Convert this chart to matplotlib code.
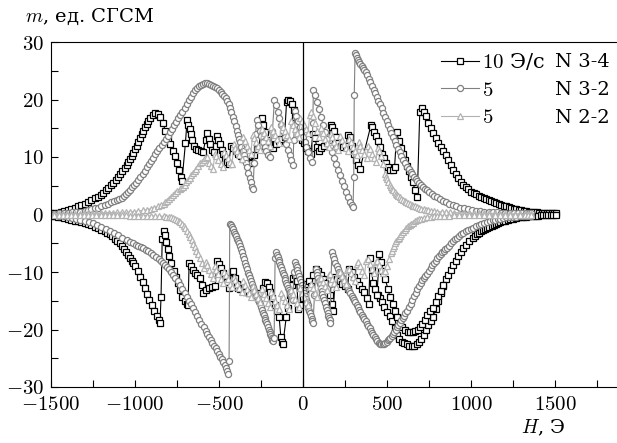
import numpy as np
import matplotlib
matplotlib.use('Agg')
import matplotlib.pyplot as plt

plt.rcParams['font.family'] = ['DejaVu Serif']
plt.rcParams['mathtext.fontset'] = 'cm'

# (H, m) points, each branch in order of increasing H
# N 3-4, 10 Э/с
n34_up = [(-1500, 0.2), (-1480, 0.25), (-1460, 0.3), (-1440, 0.45), (-1420, 0.6), (-1400, 0.8), (-1380, 1.0),
          (-1360, 1.2), (-1340, 1.4), (-1320, 1.65), (-1300, 1.9), (-1280, 2.2), (-1260, 2.5), (-1240, 2.8),
          (-1220, 3.1), (-1205, 3.45), (-1190, 3.8), (-1175, 4.2), (-1160, 4.6), (-1145, 5.05), (-1130, 5.5),
          (-1115, 6.0), (-1100, 6.5), (-1088, 7.0), (-1075, 7.5), (-1062, 8.05), (-1050, 8.6), (-1040, 9.1),
          (-1030, 9.6), (-1020, 10.15), (-1010, 10.7), (-1000, 11.35), (-990, 12.0), (-980, 12.65),
          (-970, 13.3), (-960, 13.95), (-950, 14.6), (-940, 15.2), (-930, 15.8), (-920, 16.3), (-910, 16.8),
          (-895, 17.3), (-880, 17.6), (-865, 17.5), (-850, 17.0), (-835, 16.0), (-820, 14.6), (-805, 13.2),
          (-790, 12.3), (-775, 11.0), (-762, 10.2), (-750, 9.0), (-738, 7.8), (-728, 6.6), (-720, 5.9),
          (-700, 12.4), (-690, 16.4), (-682, 15.6), (-675, 14.8), (-668, 14.0), (-660, 12.9), (-650, 12.0),
          (-638, 11.4), (-625, 11.2), (-610, 11.0), (-595, 10.8), (-580, 13.0), (-571, 14.1), (-562, 13.2),
          (-552, 12.2), (-542, 11.2), (-530, 10.8), (-520, 12.0), (-512, 13.6), (-503, 13.0), (-494, 12.2),
          (-484, 11.3), (-474, 10.5), (-463, 9.8), (-452, 9.2), (-443, 8.7), (-428, 12.0), (-415, 11.6),
          (-400, 11.1), (-385, 10.6), (-370, 10.1), (-355, 9.7), (-340, 9.4), (-322, 9.2), (-305, 9.0),
          (-290, 10.4), (-275, 11.4), (-260, 12.0), (-247, 16.7), (-237, 15.6), (-226, 14.3), (-214, 13.0),
          (-202, 12.2), (-190, 11.8), (-178, 11.5), (-162, 12.2), (-145, 12.8), (-128, 13.1), (-110, 13.5),
          (-98, 19.5), (-87, 19.9), (-77, 19.8), (-66, 19.3), (-55, 18.1), (-45, 17.0), (-34, 15.8),
          (-20, 14.1), (-8, 13.0), (5, 12.4), (18, 11.6), (32, 11.0), (45, 10.6), (60, 14.0), (71, 13.3),
          (83, 11.7), (96, 11.0), (110, 11.5), (125, 12.0), (140, 12.5), (153, 13.0), (165, 15.5), (174, 15.3),
          (184, 14.5), (196, 13.5), (210, 12.5), (225, 12.0), (240, 11.8), (254, 12.0), (268, 13.8),
          (280, 13.4), (292, 12.0), (305, 10.5), (318, 9.5), (330, 8.6), (340, 8.0), (405, 15.6), (413, 15.2),
          (422, 14.4), (433, 13.6), (445, 12.8), (458, 11.8), (470, 10.6), (482, 9.8), (495, 9.0), (508, 8.3),
          (520, 7.7), (533, 7.8), (545, 8.2), (558, 14.3), (570, 12.8), (582, 11.6), (595, 10.6), (608, 9.5),
          (620, 8.5), (632, 7.6), (645, 6.6), (655, 5.6), (665, 4.3), (680, 3.0), (695, 17.8), (708, 18.5),
          (718, 17.9), (730, 17.1), (745, 16.0), (760, 15.0), (775, 14.1), (790, 13.3), (805, 12.5),
          (820, 11.8), (835, 11.1), (850, 10.3), (865, 9.5), (880, 8.6), (895, 7.8), (910, 7.0), (925, 6.3),
          (940, 5.7), (955, 5.2), (970, 4.75), (985, 4.35), (1000, 4.0), (1015, 3.75), (1030, 3.5),
          (1045, 3.3), (1060, 3.1), (1075, 2.9), (1090, 2.7), (1105, 2.55), (1120, 2.35), (1135, 2.2),
          (1150, 2.0), (1165, 1.85), (1180, 1.7), (1195, 1.55), (1210, 1.4), (1225, 1.25), (1240, 1.1),
          (1255, 1.0), (1270, 0.9), (1285, 0.8), (1300, 0.7), (1315, 0.6), (1330, 0.55), (1345, 0.5),
          (1360, 0.45), (1375, 0.4), (1390, 0.35), (1405, 0.3), (1420, 0.3), (1435, 0.3), (1450, 0.25),
          (1465, 0.2), (1480, 0.2), (1495, 0.2), (1505, 0.2)]

n34_dn = [(-1500, -0.2), (-1480, -0.3), (-1460, -0.4), (-1440, -0.5), (-1420, -0.6), (-1400, -0.75),
          (-1380, -0.9), (-1360, -1.05), (-1340, -1.2), (-1320, -1.35), (-1300, -1.5), (-1280, -1.7),
          (-1260, -1.9), (-1240, -2.15), (-1220, -2.4), (-1200, -2.65), (-1180, -2.9), (-1165, -3.15),
          (-1150, -3.4), (-1135, -3.8), (-1120, -4.2), (-1105, -4.6), (-1090, -5.0), (-1078, -5.5),
          (-1065, -6.0), (-1052, -6.5), (-1040, -7.0), (-1030, -7.5), (-1020, -8.0), (-1010, -8.5),
          (-1000, -9.0), (-985, -9.8), (-970, -10.8), (-955, -11.8), (-940, -12.8), (-929, -13.8),
          (-915, -14.8), (-900, -15.8), (-885, -16.8), (-872, -17.6), (-860, -18.3), (-851, -18.8),
          (-845, -14.3), (-838, -4.2), (-830, -2.8), (-822, -3.6), (-815, -4.8), (-806, -6.0), (-796, -7.2),
          (-785, -8.4), (-770, -9.8), (-755, -10.9), (-742, -11.9), (-732, -13.2), (-720, -14.3),
          (-705, -15.0), (-692, -15.6), (-684, -15.8), (-678, -8.4), (-668, -9.0), (-655, -9.6),
          (-642, -10.1), (-628, -10.6), (-613, -11.0), (-604, -12.2), (-595, -13.6), (-580, -13.1),
          (-560, -12.8), (-540, -12.6), (-524, -12.4), (-510, -8.0), (-500, -8.6), (-488, -9.3),
          (-476, -10.1), (-462, -11.0), (-450, -11.8), (-440, -12.7), (-425, -10.0), (-417, -9.8),
          (-405, -11.0), (-395, -12.0), (-387, -12.7), (-375, -12.9), (-358, -13.2), (-340, -13.4),
          (-320, -13.6), (-300, -13.8), (-286, -14.0), (-274, -14.1), (-256, -13.6), (-240, -12.8),
          (-226, -11.7), (-214, -11.9), (-205, -12.6), (-195, -13.5), (-182, -14.6), (-168, -15.8),
          (-155, -16.8), (-142, -17.8), (-132, -21.3), (-126, -22.2), (-120, -22.6), (-100, -17.9),
          (-92, -16.2), (-80, -14.0), (-68, -12.2), (-59, -11.0), (-48, -10.6), (-38, -11.5), (-28, -16.4),
          (-15, -15.8), (0, -14.5), (12, -13.0), (25, -12.0), (38, -11.5), (50, -12.5), (62, -10.5),
          (75, -9.5), (91, -9.8), (105, -10.6), (120, -11.2), (133, -11.9), (145, -12.8), (158, -14.0),
          (170, -15.5), (180, -16.8), (192, -10.8), (205, -11.2), (220, -11.6), (235, -12.0), (250, -12.5),
          (265, -13.0), (275, -9.4), (290, -10.0), (305, -10.8), (321, -11.5), (335, -12.2), (350, -12.9),
          (365, -13.5), (380, -14.5), (392, -15.5), (399, -7.5), (408, -9.6), (417, -11.9), (430, -13.0),
          (445, -14.0), (458, -14.6), (470, -15.2), (485, -16.0), (500, -16.9), (515, -17.7), (530, -18.5),
          (545, -19.8), (558, -21.0), (572, -21.6), (588, -22.1), (603, -22.4), (617, -22.6), (632, -22.8),
          (648, -22.9), (662, -22.8), (678, -22.6), (692, -22.2), (705, -21.6), (718, -20.9), (732, -20.1),
          (745, -19.3), (760, -18.6), (774, -17.8), (790, -16.4), (805, -15.0), (820, -13.6), (835, -12.4),
          (850, -11.3), (865, -10.5), (880, -9.7), (895, -8.8), (910, -8.0), (925, -7.3), (940, -6.6),
          (955, -5.9), (970, -5.3), (990, -4.6), (1012, -4.0), (1024, -3.7), (1035, -3.4), (1048, -3.15),
          (1060, -2.9), (1072, -2.7), (1085, -2.5), (1098, -2.3), (1110, -2.1), (1122, -1.95), (1135, -1.8),
          (1148, -1.65), (1160, -1.5), (1175, -1.35), (1190, -1.2), (1205, -1.05), (1220, -0.9),
          (1235, -0.8), (1250, -0.7), (1265, -0.6), (1280, -0.5), (1295, -0.45), (1310, -0.4),
          (1325, -0.35), (1340, -0.3), (1355, -0.25), (1370, -0.2), (1385, -0.2), (1400, -0.2),
          (1415, -0.15), (1430, -0.1), (1445, -0.1), (1460, -0.1), (1475, -0.1), (1490, -0.1), (1505, -0.1)]

# second pass of the lower branch (shallower trough)
n34_dn2 = [(440, -14.0), (455, -6.8), (466, -8.3), (478, -9.8), (490, -11.3), (505, -12.9), (518, -14.4),
           (533, -15.6), (548, -16.8), (562, -17.9), (577, -19.0), (592, -19.6), (607, -20.1), (622, -20.4),
           (637, -20.4), (652, -20.5), (667, -20.3), (682, -20.0), (696, -19.6), (710, -19.0), (725, -18.3),
           (740, -17.5), (757, -16.8), (774, -16.2), (790, -15.2), (805, -14.2), (820, -13.3), (835, -12.3)]

# N 3-2, 5 Э/с
n32_up = [(-1500, 0.1), (-1475, 0.15), (-1450, 0.2), (-1425, 0.25), (-1400, 0.3), (-1375, 0.35), (-1350, 0.4),
          (-1325, 0.5), (-1300, 0.6), (-1280, 0.75), (-1260, 0.9), (-1240, 1.05), (-1220, 1.2), (-1200, 1.4),
          (-1180, 1.6), (-1160, 1.85), (-1140, 2.1), (-1125, 2.3), (-1110, 2.5), (-1095, 2.7), (-1080, 2.9),
          (-1068, 3.2), (-1055, 3.5), (-1042, 3.9), (-1030, 4.3), (-1018, 4.7), (-1005, 5.1), (-992, 5.55),
          (-980, 6.0), (-968, 6.5), (-955, 7.0), (-942, 7.6), (-930, 8.2), (-918, 8.75), (-905, 9.3),
          (-892, 9.9), (-880, 10.5), (-868, 11.05), (-855, 11.6), (-842, 12.1), (-830, 12.6), (-818, 13.15),
          (-805, 13.7), (-792, 14.3), (-780, 14.9), (-768, 15.5), (-755, 16.1), (-742, 16.7), (-730, 17.3),
          (-718, 17.9), (-705, 18.5), (-692, 19.2), (-680, 19.9), (-668, 20.5), (-655, 21.1), (-642, 21.6),
          (-630, 22.0), (-618, 22.3), (-605, 22.6), (-594, 22.7), (-583, 22.8), (-572, 22.8), (-560, 22.7),
          (-548, 22.6), (-535, 22.4), (-524, 22.2), (-512, 22.0), (-501, 21.7), (-490, 21.3), (-480, 21.0),
          (-470, 20.6), (-461, 20.2), (-452, 19.8), (-443, 19.2), (-435, 18.6), (-426, 17.8), (-417, 17.0),
          (-408, 16.2), (-400, 15.4), (-393, 14.6), (-387, 13.9), (-381, 13.2), (-375, 12.6), (-367, 11.8),
          (-360, 11.0), (-353, 10.3), (-347, 9.6), (-340, 8.9), (-333, 8.2), (-325, 7.3), (-318, 6.4),
          (-311, 5.6), (-304, 4.8), (-298, 4.5), (-290, 9.0), (-282, 14.0), (-276, 16.4), (-268, 15.6),
          (-258, 14.6), (-248, 13.6), (-238, 12.6), (-228, 11.8), (-218, 11.0), (-206, 10.4), (-196, 10.0),
          (-182, 14.5), (-170, 20.0), (-160, 19.0), (-150, 17.8), (-140, 16.8), (-130, 15.6), (-120, 14.5),
          (-110, 13.4), (-100, 12.3), (-90, 11.3), (-80, 10.3), (-70, 9.4), (-60, 8.6), (-55, 13.0),
          (-50, 18.0), (-40, 17.1), (-30, 16.2), (-20, 15.3), (-10, 14.4), (0, 13.5), (10, 12.6), (20, 11.7),
          (30, 10.8), (42, 9.8), (54, 9.1), (58, 16.0), (62, 21.6), (72, 20.8), (83, 19.6), (95, 18.3),
          (108, 16.9), (120, 15.6), (132, 14.4), (145, 13.2), (158, 12.0), (170, 10.9), (182, 9.8), (195, 8.8),
          (208, 7.8), (220, 6.8), (232, 5.8), (245, 4.9), (258, 4.0), (270, 3.1), (282, 2.2), (292, 1.6),
          (298, 1.3), (302, 6.5), (305, 20.8), (310, 28.1), (315, 27.7), (320, 27.3), (328, 26.9),
          (335, 26.5), (342, 26.15), (350, 25.8), (358, 25.45), (365, 25.1), (373, 24.7), (381, 24.3),
          (390, 23.65), (400, 23.0), (410, 22.35), (420, 21.7), (430, 21.05), (440, 20.4), (449, 19.8),
          (458, 19.2), (468, 18.45), (478, 17.7), (488, 16.95), (497, 16.2), (506, 15.5), (516, 14.8),
          (526, 14.1), (536, 13.4), (546, 12.75), (556, 12.1), (566, 11.45), (576, 10.8), (586, 10.15),
          (597, 9.5), (608, 8.9), (619, 8.3), (630, 7.85), (640, 7.4), (650, 7.0), (660, 6.6), (670, 6.25),
          (680, 5.9), (690, 5.55), (700, 5.2), (712, 4.85), (725, 4.5), (738, 4.2), (750, 3.9), (765, 3.6),
          (780, 3.3), (798, 3.0), (815, 2.7), (832, 2.4), (850, 2.1), (870, 1.85), (890, 1.6), (912, 1.4),
          (935, 1.2), (958, 1.05), (980, 0.9), (1005, 0.75), (1030, 0.6), (1055, 0.55), (1080, 0.5),
          (1105, 0.45), (1130, 0.4), (1155, 0.35), (1180, 0.3), (1205, 0.3), (1230, 0.3), (1255, 0.25),
          (1280, 0.2), (1305, 0.2), (1330, 0.2), (1345, 0.2), (1360, 0.2)]

n32_dn = [(-1500, -0.1), (-1475, -0.15), (-1450, -0.2), (-1425, -0.3), (-1400, -0.4), (-1375, -0.55),
          (-1350, -0.7), (-1325, -0.9), (-1300, -1.1), (-1275, -1.3), (-1250, -1.5), (-1225, -1.85),
          (-1200, -2.2), (-1175, -2.55), (-1150, -2.9), (-1125, -3.25), (-1100, -3.6), (-1075, -4.0),
          (-1050, -4.4), (-1030, -4.7), (-1012, -5.0), (-995, -5.25), (-980, -5.5), (-965, -5.7),
          (-950, -5.9), (-935, -6.1), (-920, -6.3), (-905, -6.65), (-890, -7.0), (-875, -7.4), (-860, -7.8),
          (-848, -8.1), (-835, -8.4), (-822, -8.75), (-810, -9.1), (-798, -9.55), (-785, -10.0),
          (-772, -10.5), (-760, -11.0), (-746, -11.65), (-732, -12.3), (-718, -12.95), (-705, -13.6),
          (-692, -14.3), (-680, -15.0), (-668, -15.65), (-655, -16.3), (-642, -16.95), (-630, -17.6),
          (-618, -18.3), (-605, -19.0), (-592, -19.65), (-580, -20.3), (-570, -20.8), (-560, -21.3),
          (-550, -21.8), (-540, -22.3), (-530, -22.8), (-520, -23.3), (-510, -23.8), (-500, -24.3),
          (-492, -24.75), (-483, -25.2), (-475, -25.7), (-466, -26.2), (-459, -26.7), (-452, -27.2),
          (-446, -27.7), (-440, -25.5), (-436, -1.6), (-430, -1.9), (-425, -2.2), (-418, -2.6), (-412, -3.0),
          (-406, -3.4), (-400, -3.8), (-393, -4.2), (-387, -4.6), (-381, -5.0), (-375, -5.4), (-368, -6.0),
          (-362, -6.6), (-356, -7.2), (-350, -7.8), (-344, -8.4), (-338, -9.0), (-332, -9.55), (-326, -10.1),
          (-320, -10.55), (-315, -11.0), (-308, -11.55), (-302, -12.1), (-296, -12.6), (-290, -13.1),
          (-284, -13.6), (-278, -14.1), (-272, -14.5), (-266, -14.9), (-261, -15.25), (-256, -15.6),
          (-250, -16.1), (-245, -16.6), (-240, -17.05), (-235, -17.5), (-229, -17.95), (-224, -18.4),
          (-219, -18.75), (-214, -19.1), (-209, -19.55), (-204, -20.0), (-199, -20.4), (-195, -20.8),
          (-190, -21.15), (-186, -21.5), (-182, -21.75), (-178, -22.0), (-172, -21.5), (-166, -7.5),
          (-160, -6.6), (-155, -7.0), (-150, -7.4), (-145, -7.85), (-140, -8.3), (-135, -8.75), (-130, -9.2),
          (-125, -9.65), (-120, -10.1), (-115, -10.55), (-110, -11.0), (-105, -11.45), (-100, -11.9),
          (-95, -12.3), (-90, -12.7), (-85, -13.1), (-80, -13.5), (-75, -13.85), (-70, -14.2), (-65, -14.5),
          (-60, -14.8), (-54, -10.0), (-48, -8.2), (-43, -8.7), (-38, -9.2), (-33, -9.7), (-28, -10.2),
          (-23, -10.7), (-18, -11.2), (-13, -11.7), (-8, -12.2), (-3, -12.7), (2, -13.2), (7, -13.7),
          (12, -14.2), (17, -14.7), (22, -15.2), (27, -15.7), (32, -16.2), (37, -16.7), (42, -17.2),
          (47, -17.65), (52, -18.1), (56, -18.5), (60, -18.8), (68, -14.0), (76, -9.4), (81, -9.95),
          (86, -10.5), (91, -11.05), (96, -11.6), (101, -12.15), (106, -12.7), (111, -13.25), (116, -13.8),
          (121, -14.35), (126, -14.9), (131, -15.45), (136, -16.0), (141, -16.55), (146, -17.1), (151, -17.6),
          (155, -18.0), (158, -18.4), (161, -18.8), (166, -12.0), (172, -6.6), (178, -7.2), (185, -7.8),
          (192, -8.4), (200, -9.0), (207, -9.5), (215, -10.0), (222, -10.4), (230, -10.8), (238, -11.2),
          (245, -11.6), (252, -12.05), (260, -12.5), (268, -12.9), (275, -13.3), (282, -13.7), (290, -14.1),
          (298, -14.5), (305, -14.9), (312, -15.3), (320, -15.7), (328, -16.15), (335, -16.6), (342, -17.0),
          (350, -17.4), (358, -17.8), (365, -18.2), (373, -18.6), (381, -19.0), (388, -19.4), (396, -19.8),
          (404, -20.2), (411, -20.6), (418, -20.95), (426, -21.3), (434, -21.65), (442, -22.0), (450, -22.3),
          (458, -22.5), (466, -22.6), (474, -22.6), (482, -22.5), (490, -22.3), (498, -22.1), (505, -21.9),
          (512, -21.65), (520, -21.4), (528, -21.1), (536, -20.8), (544, -20.4), (552, -20.0), (560, -19.6),
          (568, -19.2), (576, -18.8), (585, -18.4), (594, -18.0), (602, -17.6), (610, -17.2), (619, -16.8),
          (630, -16.15), (640, -15.5), (650, -14.85), (660, -14.2), (670, -13.6), (680, -13.0),
          (690, -12.45), (700, -11.9), (710, -11.45), (720, -11.0), (729, -10.65), (738, -10.3), (749, -9.8),
          (760, -9.3), (770, -8.85), (780, -8.4), (790, -8.0), (800, -7.6), (810, -7.25), (820, -6.9),
          (830, -6.6), (840, -6.3), (848, -6.05), (857, -5.8), (868, -5.4), (880, -5.0), (892, -4.65),
          (905, -4.3), (918, -4.0), (930, -3.7), (942, -3.45), (955, -3.2), (970, -2.95), (985, -2.7),
          (998, -2.5), (1012, -2.3), (1028, -2.05), (1045, -1.8), (1062, -1.6), (1080, -1.4), (1098, -1.25),
          (1115, -1.1), (1130, -1.0), (1145, -0.9), (1160, -0.8), (1173, -0.7), (1190, -0.6), (1210, -0.5),
          (1230, -0.45), (1250, -0.4), (1270, -0.35), (1290, -0.3), (1310, -0.25), (1330, -0.2),
          (1345, -0.2), (1360, -0.2)]

# N 2-2, 5 Э/с
n22_up = [(-1480, 0.1), (-1455, 0.1), (-1430, 0.1), (-1405, 0.1), (-1380, 0.1), (-1355, 0.1), (-1330, 0.15),
          (-1305, 0.2), (-1280, 0.2), (-1255, 0.2), (-1230, 0.2), (-1205, 0.25), (-1180, 0.3), (-1155, 0.3),
          (-1130, 0.3), (-1105, 0.35), (-1080, 0.4), (-1055, 0.4), (-1030, 0.45), (-1005, 0.5), (-980, 0.6),
          (-955, 0.7), (-930, 0.85), (-905, 1.0), (-885, 1.2), (-865, 1.4), (-848, 1.65), (-830, 1.9),
          (-820, 2.15), (-810, 2.4), (-798, 2.7), (-785, 3.0), (-772, 3.35), (-760, 3.7), (-748, 4.05),
          (-735, 4.4), (-724, 4.6), (-714, 4.8), (-704, 5.2), (-695, 5.6), (-685, 6.0), (-675, 6.4),
          (-665, 6.8), (-655, 7.2), (-645, 7.6), (-635, 8.0), (-624, 8.45), (-613, 8.9), (-602, 9.2),
          (-592, 9.5), (-581, 9.75), (-571, 10.0), (-560, 9.0), (-548, 8.4), (-535, 7.9), (-525, 10.5),
          (-515, 10.1), (-503, 9.5), (-490, 8.8), (-478, 8.3), (-468, 10.8), (-458, 10.4), (-446, 9.8),
          (-434, 9.2), (-422, 8.8), (-412, 12.2), (-402, 11.6), (-390, 11.0), (-378, 10.3), (-366, 9.7),
          (-356, 13.4), (-346, 12.8), (-334, 12.0), (-322, 11.3), (-310, 10.6), (-300, 13.9), (-290, 13.3),
          (-278, 12.6), (-266, 11.9), (-255, 11.2), (-245, 14.8), (-235, 14.2), (-222, 13.4), (-210, 12.7),
          (-198, 12.0), (-188, 15.3), (-178, 14.6), (-165, 13.9), (-152, 13.1), (-140, 12.5), (-130, 15.9),
          (-120, 15.2), (-107, 14.5), (-94, 13.8), (-82, 13.1), (-72, 16.2), (-62, 15.6), (-50, 14.8),
          (-38, 14.1), (-26, 13.4), (-16, 16.8), (-6, 16.2), (6, 15.5), (18, 14.8), (30, 14.2), (40, 17.3),
          (50, 17.8), (60, 17.2), (72, 16.0), (85, 14.6), (98, 13.4), (108, 15.0), (118, 14.2), (130, 13.2),
          (142, 12.4), (154, 11.8), (164, 14.0), (174, 13.4), (186, 12.6), (198, 11.9), (210, 11.3),
          (220, 13.6), (230, 13.0), (242, 12.3), (254, 11.6), (266, 11.0), (276, 13.2), (286, 12.6),
          (298, 11.8), (310, 11.1), (322, 10.4), (332, 12.6), (342, 12.0), (354, 11.2), (366, 10.5),
          (378, 9.8), (388, 12.0), (398, 11.4), (410, 10.6), (422, 9.9), (434, 9.2), (444, 11.6), (454, 11.0),
          (466, 10.2), (478, 8.8), (488, 7.1), (494, 6.6), (500, 6.1), (508, 5.65), (515, 5.2), (522, 4.85),
          (530, 4.5), (538, 4.2), (545, 3.9), (552, 3.65), (560, 3.4), (568, 3.2), (577, 3.0), (586, 2.75),
          (595, 2.5), (605, 2.3), (615, 2.1), (625, 1.95), (635, 1.8), (646, 1.65), (657, 1.5), (668, 1.4),
          (679, 1.3), (692, 1.15), (705, 1.0), (718, 0.9), (730, 0.8), (745, 0.7), (760, 0.6), (780, 0.55),
          (800, 0.5), (825, 0.45), (850, 0.4), (875, 0.35), (900, 0.3), (930, 0.3), (960, 0.3), (990, 0.25),
          (1020, 0.2), (1050, 0.2), (1080, 0.2), (1110, 0.2), (1140, 0.2), (1170, 0.15), (1200, 0.1),
          (1230, 0.1), (1260, 0.1), (1290, 0.1), (1320, 0.1), (1340, 0.1), (1360, 0.1)]

n22_dn = [(-1480, -0.1), (-1455, -0.1), (-1430, -0.1), (-1405, -0.1), (-1380, -0.1), (-1355, -0.1),
          (-1330, -0.1), (-1305, -0.1), (-1280, -0.1), (-1255, -0.1), (-1230, -0.1), (-1205, -0.1),
          (-1180, -0.15), (-1155, -0.15), (-1130, -0.15), (-1105, -0.15), (-1080, -0.15), (-1055, -0.15),
          (-1030, -0.2), (-1005, -0.2), (-980, -0.2), (-955, -0.2), (-930, -0.2), (-905, -0.25), (-880, -0.3),
          (-855, -0.3), (-830, -0.3), (-815, -0.35), (-800, -0.4), (-787, -0.5), (-774, -0.6), (-763, -0.75),
          (-752, -0.9), (-741, -1.1), (-730, -1.3), (-720, -1.65), (-710, -2.0), (-700, -2.4), (-690, -2.8),
          (-681, -3.35), (-672, -3.9), (-663, -4.5), (-655, -5.1), (-645, -5.7), (-635, -6.3), (-624, -6.9),
          (-613, -7.5), (-600, -8.5), (-590, -9.3), (-580, -8.2), (-570, -8.8), (-558, -9.6), (-545, -10.4),
          (-535, -11.0), (-525, -9.0), (-515, -9.6), (-503, -10.4), (-490, -11.2), (-478, -11.9),
          (-468, -10.0), (-458, -10.6), (-446, -11.3), (-434, -12.0), (-422, -12.6), (-412, -10.8),
          (-402, -11.4), (-390, -12.1), (-378, -12.8), (-366, -13.4), (-356, -11.6), (-346, -12.3),
          (-334, -13.0), (-322, -13.7), (-310, -14.4), (-300, -12.4), (-290, -13.1), (-278, -13.9),
          (-266, -14.6), (-255, -15.3), (-245, -13.0), (-235, -13.8), (-222, -14.6), (-210, -15.4),
          (-198, -16.1), (-188, -13.4), (-178, -14.2), (-165, -15.0), (-152, -15.8), (-140, -16.5),
          (-130, -13.6), (-120, -14.3), (-107, -15.1), (-94, -15.8), (-82, -16.4), (-72, -13.2), (-62, -13.9),
          (-50, -14.7), (-38, -15.4), (-26, -16.1), (-16, -12.8), (-6, -13.6), (6, -14.4), (18, -15.2),
          (30, -15.8), (40, -12.6), (50, -12.0), (62, -12.8), (74, -13.6), (86, -14.3), (96, -11.2),
          (106, -11.0), (118, -11.8), (130, -12.5), (142, -13.2), (152, -10.6), (162, -10.4), (174, -11.2),
          (186, -11.9), (198, -12.6), (208, -10.2), (218, -10.0), (230, -10.7), (242, -11.4), (254, -12.0),
          (264, -9.6), (274, -9.4), (286, -10.1), (298, -10.8), (310, -11.5), (320, -8.6), (330, -8.3),
          (342, -9.0), (354, -9.8), (366, -10.5), (376, -8.0), (386, -7.8), (398, -8.6), (410, -9.4),
          (422, -10.2), (432, -8.2), (442, -8.0), (454, -8.8), (466, -9.6), (478, -10.2), (490, -9.8),
          (500, -9.0), (512, -7.8), (524, -6.7), (530, -6.3), (536, -5.9), (543, -5.45), (550, -5.0),
          (556, -4.65), (563, -4.3), (570, -4.0), (577, -3.7), (586, -3.35), (595, -3.0), (605, -2.65),
          (615, -2.3), (625, -2.05), (635, -1.8), (645, -1.6), (655, -1.4), (668, -1.2), (680, -1.0),
          (692, -0.85), (705, -0.7), (722, -0.6), (740, -0.5), (760, -0.4), (780, -0.3), (798, -0.25),
          (815, -0.2), (842, -0.2), (870, -0.2), (900, -0.15), (930, -0.1), (960, -0.1), (990, -0.1),
          (1020, -0.1), (1050, -0.1), (1080, -0.1), (1110, -0.1), (1140, -0.1), (1170, -0.1), (1200, -0.1),
          (1230, -0.1), (1260, -0.1), (1290, -0.1), (1320, -0.1), (1340, -0.1), (1360, -0.1)]

legend_rates = ['$10$ Э/с', '$5$', '$5$']
legend_samples = ['N 3-4', 'N 3-2', 'N 2-2']

x_ticks = [-1500, -1000, -500, 0, 500, 1000, 1500]
y_ticks = [-30, -20, -10, 0, 10, 20, 30]


def join(*branches):
    # branches glued with NaN so one line per sample
    parts = []
    for b in branches:
        parts.append(np.array(b, dtype=float))
        parts.append(np.array([[np.nan, np.nan]]))
    arr = np.vstack(parts[:-1])
    return arr[:, 0], arr[:, 1]


fig = plt.figure(figsize=(6.17, 4.43), dpi=100)
ax = fig.add_axes([51 / 617, 56 / 443, 566 / 617, 345 / 443])

styles = [
    dict(color='black', marker='s', ms=4.0, mew=0.9, mfc='white', lw=0.8),
    dict(color='#808080', marker='o', ms=4.4, mew=0.9, mfc='white', lw=0.8),
    dict(color='#b2b2b2', marker='^', ms=5.0, mew=0.9, mfc='white', lw=0.8),
]
data = [join(n34_up, n34_dn, n34_dn2), join(n32_up, n32_dn), join(n22_up, n22_dn)]

for (h, m), st, lab in zip(data, styles, legend_rates):
    ax.plot(h, m, label=lab, **st)

ax.axvline(0, color='black', lw=0.9, zorder=5)

ax.set_xlim(-1500, 1869)
ax.set_ylim(-30, 30)
ax.set_xticks(x_ticks, labels=['$%d$' % t for t in x_ticks])
ax.set_xticks(np.arange(-1500, 1870, 250), minor=True)
ax.set_yticks(y_ticks, labels=['$%d$' % t for t in y_ticks])
ax.set_yticks(np.arange(-30, 31, 5), minor=True)
ax.tick_params(which='both', direction='in', top=False, right=False, length=5, width=0.8)
ax.tick_params(axis='x', which='major', pad=6, labelsize=15)
ax.tick_params(axis='y', which='major', pad=5, labelsize=15)
ax.spines['right'].set_visible(False)
for s in ['left', 'top', 'bottom']:
    ax.spines[s].set_linewidth(0.8)

leg = ax.legend(loc='upper left', bbox_to_anchor=((437 - 51) / 566, 0.985), frameon=False, fontsize=15,
                handlelength=1.8, handletextpad=0.15, labelspacing=0.4, borderpad=0.2, borderaxespad=0)

fig.text(25 / 617, 1 - 22 / 443, '$m$, ед. СГСМ', fontsize=14, va='baseline')
fig.text(543 / 617, 1 - 428 / 443, '$H$, Э', fontsize=14, ha='center', va='center')

fig.canvas.draw()
inv = ax.transAxes.inverted()
for t, lab in zip(leg.get_texts(), legend_samples):
    bb = t.get_window_extent()
    yc = inv.transform((0, (bb.y0 + bb.y1) / 2))[1]
    ax.text((555 - 51) / 566, yc, lab, fontsize=14, va='center', ha='left', transform=ax.transAxes)

fig.savefig('out.png', dpi=100)
